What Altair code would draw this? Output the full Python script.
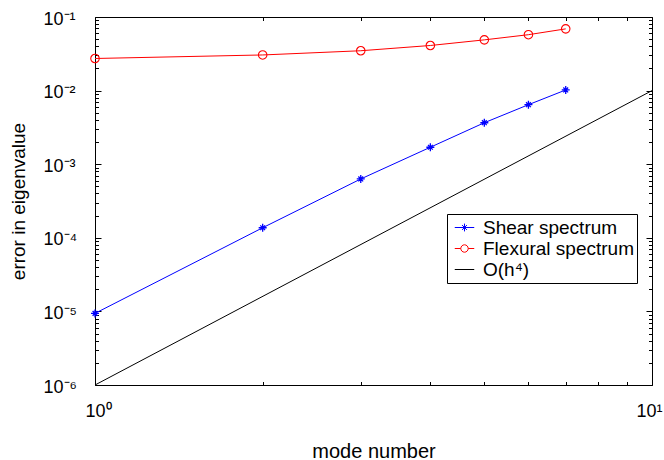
import altair as alt
import pandas as pd

# ---- data ----
modes = [1, 2, 3, 4, 5, 6, 7]
shear = [9.4e-6, 1.37e-4, 6.3e-4, 1.70e-3, 3.66e-3, 6.43e-3, 1.02e-2]
flexural = [0.0273, 0.0305, 0.0348, 0.0410, 0.0489, 0.0575, 0.0690]
ref_modes = [1, 10]
ref_err = [1e-6, 1e-2]

series_names = ["Shear spectrum", "Flexural spectrum", "O(h⁴)"]
series_colors = ["#0000ff", "#ff0000", "#000000"]

x_major = [1, 10]
x_ticks = [1, 2, 3, 4, 5, 6, 7, 8, 9, 10]
y_major = [1e-6, 1e-5, 1e-4, 1e-3, 1e-2, 1e-1]
y_ticks = y_major + [m * d for d in [1e-6, 1e-5, 1e-4, 1e-3, 1e-2] for m in range(2, 10)]

rows = []
for m, v in zip(modes, shear):
    rows.append({"series": series_names[0], "mode": m, "err": v})
for m, v in zip(modes, flexural):
    rows.append({"series": series_names[1], "mode": m, "err": v})
for m, v in zip(ref_modes, ref_err):
    rows.append({"series": series_names[2], "mode": m, "err": v})
df = pd.DataFrame(rows)

W, H = 557, 368
FONT = "Liberation Sans"

xscale = alt.Scale(type="log", domain=[1, 10], nice=False)
yscale = alt.Scale(type="log", domain=[1e-6, 1e-1], nice=False)
cscale = alt.Scale(domain=series_names, range=series_colors)

EXP = "round(log(datum.value)/LN10)"
label_expr = ("'10' + (" + EXP + " < 0 ? '⁻' : '') + "
              "['⁰','¹','²','³','⁴','⁵','⁶','⁷','⁸','⁹'][abs(" + EXP + ")]")
tick_size = {"condition": {"test": "abs(log(datum.value)/LN10 - " + EXP + ") < 0.001",
                           "value": 6}, "value": 3.5}


def tick_axis(orient, offset, values):
    return alt.Axis(orient=orient, offset=offset, values=values, labels=False,
                    domain=False, grid=False, title=None, ticks=True,
                    tickColor="black", tickWidth=1, tickSize=tick_size)


leg = alt.Legend(title=None, orient="none", legendX=352, legendY=197,
                 symbolSize=380, symbolStrokeWidth=1, symbolOffset=4,
                 labelFont=FONT, labelFontSize=19, labelColor="black",
                 labelOffset=8, padding=3, rowPadding=0, strokeColor="black",
                 fillColor="white", cornerRadius=0)

base = alt.Chart(df)

lines = base.mark_line(strokeWidth=1).encode(
    x=alt.X("mode:Q", scale=xscale,
            axis=alt.Axis(orient="bottom", values=x_major, labelExpr=label_expr,
                          ticks=False, domain=False, grid=False,
                          labelFont=FONT, labelFontSize=18, labelColor="black",
                          labelAlign={"condition": {"test": "datum.value >= 10",
                                                    "value": "right"},
                                      "value": "left"},
                          labelOffset={"condition": {"test": "datum.value >= 10",
                                                     "value": 10},
                                       "value": -10},
                          labelBaseline="top", labelPadding=17, labelFlush=False,
                          title="mode number", titleFont=FONT, titleFontSize=20,
                          titleFontWeight="normal", titleColor="black",
                          titleX=W / 2, titleY=72, titleAlign="center",
                          titleBaseline="alphabetic")),
    y=alt.Y("err:Q", scale=yscale,
            axis=alt.Axis(orient="left", values=y_major, labelExpr=label_expr,
                          ticks=False, domain=False, grid=False,
                          labelFont=FONT, labelFontSize=18, labelColor="black",
                          labelAlign="left", labelPadding=52,
                          labelBaseline="middle", labelOffset=2,
                          labelFlush=False,
                          title="error in eigenvalue", titleFont=FONT,
                          titleFontSize=19, titleFontWeight="normal",
                          titleColor="black", titleX=-77, titleY=H / 2,
                          titleAngle=270, titleAlign="center",
                          titleBaseline="middle")),
    color=alt.Color("series:N", scale=cscale, legend=leg),
    detail="series:N",
)

asterisk = "M-1,0H1M0,-1V1M-0.6,-0.6L0.6,0.6M-0.6,0.6L0.6,-0.6"

shear_pts = base.transform_filter(
    alt.datum.series == series_names[0]
).mark_point(shape=asterisk, size=64, filled=False, strokeWidth=1.3,
             color=series_colors[0], opacity=1).encode(
    x=alt.X("mode:Q", scale=xscale, axis=tick_axis("top", -H, x_ticks)),
    y=alt.Y("err:Q", scale=yscale, axis=tick_axis("right", -W, y_ticks)),
)

flex_pts = base.transform_filter(
    alt.datum.series == series_names[1]
).mark_point(shape="circle", size=72, filled=False, strokeWidth=1.1,
             color=series_colors[1], opacity=1).encode(
    x=alt.X("mode:Q", scale=xscale, axis=tick_axis("bottom", -H, x_ticks)),
    y=alt.Y("err:Q", scale=yscale, axis=tick_axis("left", -W, y_ticks)),
)

legend_paths = [
    "M-1,0H1M0,-0.4V0.4M-0.25,-0.25L0.25,0.25M-0.25,0.25L0.25,-0.25",
    "M-1,0H-0.38M0.38,0H1M-0.38,0A0.38,0.38,0,1,1,0.38,0A0.38,0.38,0,1,1,-0.38,0",
    "M-1,0H1",
]

legend_layer = base.transform_filter("false").mark_point(
    filled=False, opacity=1, strokeWidth=1).encode(
    x=alt.X("mode:Q", scale=xscale, axis=None),
    y=alt.Y("err:Q", scale=yscale, axis=None),
    color=alt.Color("series:N", scale=cscale, legend=leg),
    shape=alt.Shape("series:N",
                    scale=alt.Scale(domain=series_names, range=legend_paths),
                    legend=leg),
)

chart = alt.layer(lines, shear_pts, flex_pts, legend_layer).resolve_axis(
    x="independent", y="independent"
).properties(
    width=W, height=H,
    padding={"left": 95, "top": 17, "right": 12, "bottom": 75},
    autosize=alt.AutoSizeParams(type="none"),
    background="white",
).configure_view(stroke="black", strokeWidth=1)

chart.save("out.html", embed_options={"renderer": "svg", "actions": False})
